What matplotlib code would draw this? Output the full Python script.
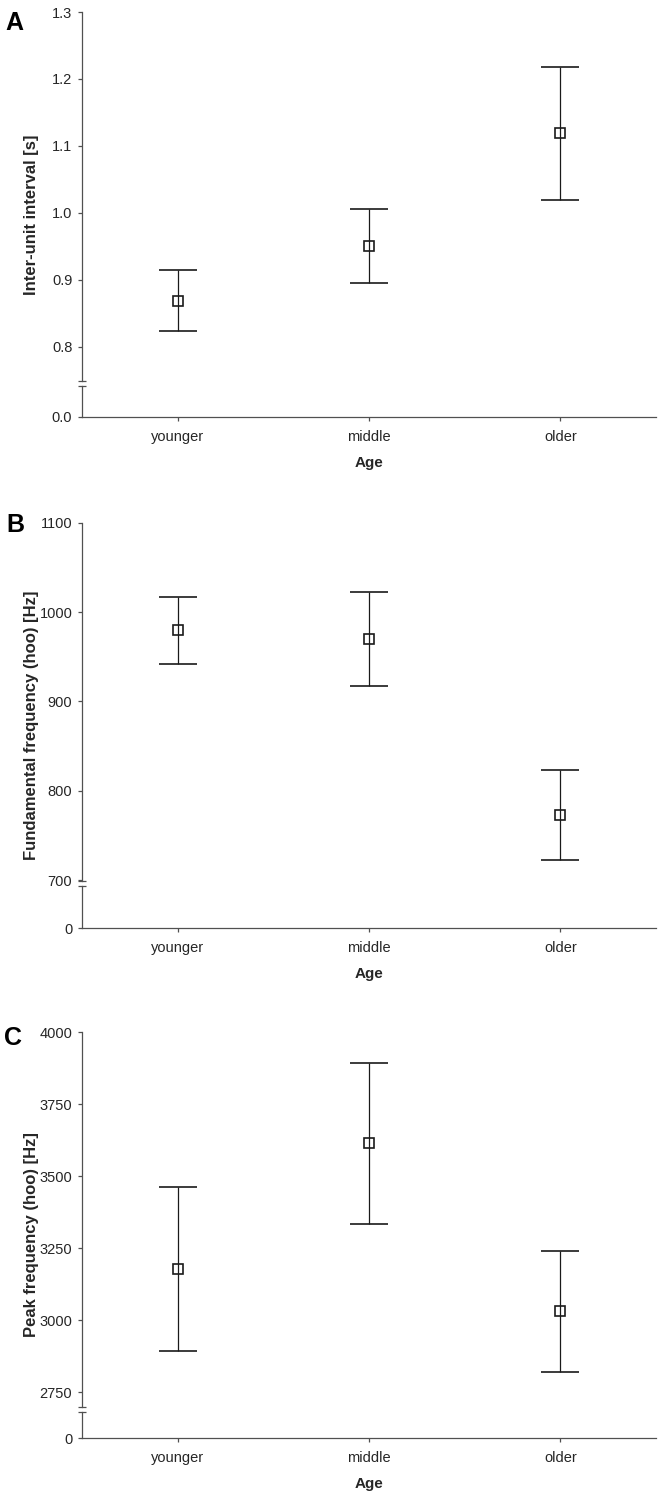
import matplotlib
matplotlib.use("Agg")
import matplotlib.pyplot as plt

plt.rcParams['font.family'] = ['Liberation Sans', 'DejaVu Sans']

# categories on the x axis
ages = ['younger', 'middle', 'older']

# panel A: inter-unit interval [s]
iui_mean = [0.869, 0.951, 1.119]
iui_low = [0.823, 0.896, 1.020]
iui_high = [0.915, 1.006, 1.218]
iui_ticks = [0.8, 0.9, 1.0, 1.1, 1.2, 1.3]

# panel B: fundamental frequency (hoo) [Hz]
f0_mean = [980, 970, 773]
f0_low = [942, 917, 722]
f0_high = [1017, 1022, 823]
f0_ticks = [700, 800, 900, 1000, 1100]

# panel C: peak frequency (hoo) [Hz]
pf_mean = [3178, 3613, 3031]
pf_low = [2892, 3333, 2821]
pf_high = [3461, 3893, 3240]
pf_ticks = [2750, 3000, 3250, 3500, 3750, 4000]

W, H = 661, 1496
fig = plt.figure(figsize=(W / 100, H / 100), dpi=100)

text_col = '#262626'
spine_col = '#505050'
bar_col = '#1a1a1a'


def frac(px_top, px_bot):
    # convert pixel rows into a figure-fraction [bottom, height]
    return 1 - px_bot / H, (px_bot - px_top) / H


def panel(letter, letter_xy, mean, low, high, ticks, ylim, ylabel,
          top_px, brk_px, gap_px, zero_px, tickfmt):
    left = 82 / W
    width = 574 / W
    b, h = frac(top_px, brk_px)
    ax = fig.add_axes([left, b, width, h])
    b2, h2 = frac(gap_px, zero_px)
    ax0 = fig.add_axes([left, b2, width, h2], sharex=ax)

    x = list(range(len(ages)))
    yerr = [[m - l for m, l in zip(mean, low)], [hh - m for m, hh in zip(mean, high)]]
    ax.errorbar(x, mean, yerr=yerr, fmt='s', color=bar_col, ecolor=bar_col,
                elinewidth=0.9, capsize=14, capthick=0.9, markersize=7,
                mfc='none', mec=bar_col, mew=1.2)

    ax.set_xlim(-0.5, 2.5)
    ax.set_ylim(*ylim)
    ax.set_yticks(ticks)
    ax.set_yticklabels([tickfmt(t) for t in ticks])
    for s in ['top', 'right', 'bottom']:
        ax.spines[s].set_visible(False)
    ax.spines['left'].set_color(spine_col)
    ax.spines['left'].set_linewidth(0.9)
    ax.tick_params(axis='x', which='both', bottom=False, labelbottom=False)
    ax.tick_params(axis='y', length=3, width=0.9, color=spine_col, pad=4,
                   labelsize=10.5, labelcolor=text_col)

    ax0.set_ylim(0, 1)
    ax0.set_yticks([0])
    ax0.set_yticklabels([tickfmt(0)])
    for s in ['top', 'right']:
        ax0.spines[s].set_visible(False)
    for s in ['left', 'bottom']:
        ax0.spines[s].set_color(spine_col)
        ax0.spines[s].set_linewidth(0.9)
    ax0.set_xticks(x)
    ax0.set_xticklabels(ages)
    ax0.tick_params(axis='y', length=3, width=0.9, color=spine_col, pad=4,
                    labelsize=10.5, labelcolor=text_col)
    ax0.tick_params(axis='x', length=3, width=0.9, color=spine_col, pad=6.5,
                    labelsize=10.5, labelcolor=text_col)
    ax0.set_xlabel('Age', fontsize=11, fontweight='bold', color=text_col,
                   labelpad=8.5)

    # axis break marks
    kw = dict(marker='_', markersize=6, linestyle='none',
              color=spine_col, mec=spine_col, mew=0.9, clip_on=False)
    ax.plot([0], [0], transform=ax.transAxes, **kw)
    ax0.plot([0], [1], transform=ax0.transAxes, **kw)

    mid = (top_px + zero_px) / 2
    fig.text(32 / W, 1 - mid / H, ylabel, rotation=90,
             ha='center', va='center', fontsize=12, fontweight='bold',
             color=text_col)
    fig.text(letter_xy[0] / W, 1 - letter_xy[1] / H, letter, ha='center',
             va='center', fontsize=18, fontweight='bold', color='black')


panel('A', (14.7, 22.7), iui_mean, iui_low, iui_high, iui_ticks, (0.749, 1.3),
      'Inter-unit interval [s]', 12, 381, 386, 417,
      lambda t: f'{t:.1f}')
panel('B', (15.7, 525), f0_mean, f0_low, f0_high, f0_ticks, (699, 1100),
      'Fundamental frequency (hoo) [Hz]', 522.7, 881, 886, 928,
      lambda t: f'{t:.0f}')
panel('C', (13.5, 1038), pf_mean, pf_low, pf_high, pf_ticks, (2699, 4000),
      'Peak frequency (hoo) [Hz]', 1032, 1406.7, 1411.7, 1438,
      lambda t: f'{t:.0f}')

fig.savefig('out.png', dpi=100)
